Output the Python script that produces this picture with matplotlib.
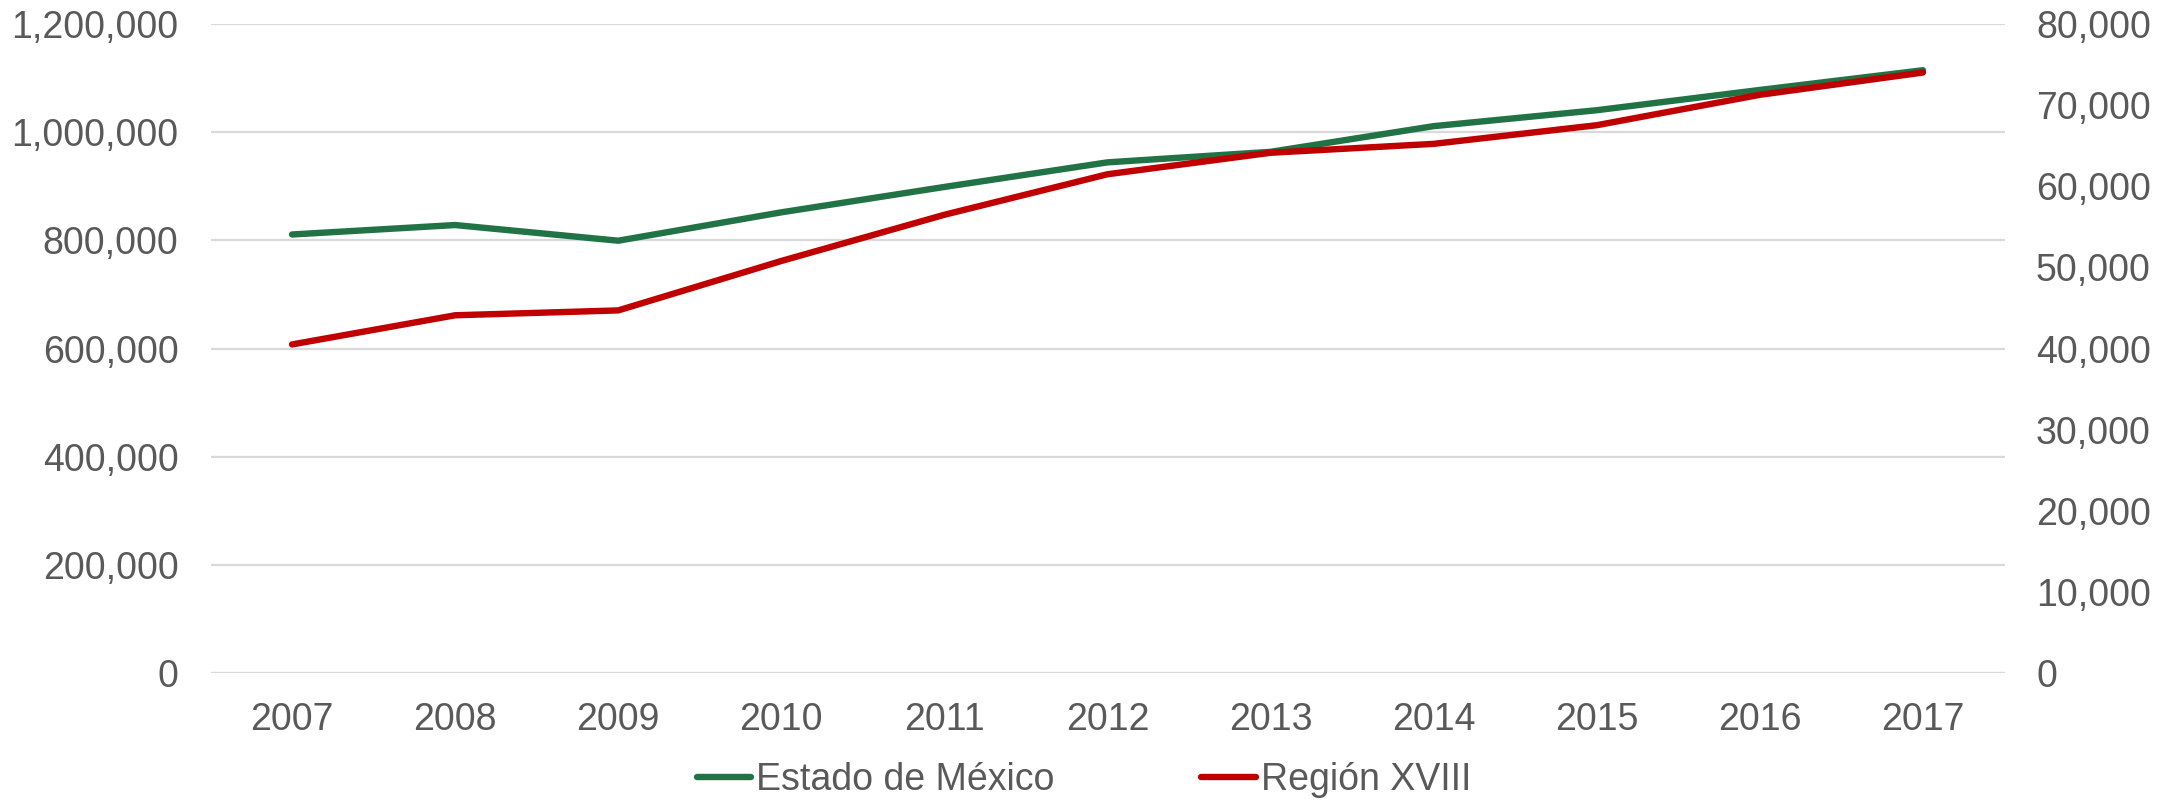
import matplotlib
matplotlib.use("Agg")
import matplotlib.pyplot as plt
from matplotlib.ticker import FuncFormatter, FixedLocator

years = ["2007", "2008", "2009", "2010", "2011", "2012", "2013", "2014", "2015", "2016", "2017"]
estado_mexico = [811000, 828500, 799500, 852000, 899000, 944500, 964000, 1011500, 1041000, 1078500, 1115000]
region_xviii = [40500, 44100, 44700, 50800, 56500, 61500, 64150, 65250, 67550, 71300, 74050]

left_ticks = [0, 200000, 400000, 600000, 800000, 1000000, 1200000]
right_ticks = [0, 10000, 20000, 30000, 40000, 50000, 60000, 70000, 80000]

GREEN = "#217346"
RED = "#C00000"
GRAY = "#595959"
GRID = "#D9D9D9"

plt.rcParams['font.family'] = ['Liberation Sans', 'DejaVu Sans']
fs = 27

fig = plt.figure(figsize=(21.82, 8.02), dpi=100)
ax = fig.add_axes([210.5/2182, 1-672.7/802, (2004.5-210.5)/2182, (672.7-24.3)/802])
ax2 = ax.twinx()

x = list(range(len(years)))
l1, = ax.plot(x, estado_mexico, color=GREEN, lw=4.6, solid_capstyle='round', label="Estado de México", zorder=3)
l2, = ax2.plot(x, region_xviii, color=RED, lw=4.6, solid_capstyle='round', label="Región XVIII", zorder=3)

ax.set_xlim(-0.5, len(years)-0.5)
ax.set_ylim(0, 1200000)
ax2.set_ylim(0, 80000)
ax.yaxis.set_major_locator(FixedLocator(left_ticks))
ax2.yaxis.set_major_locator(FixedLocator(right_ticks))
fmt = FuncFormatter(lambda v, p: f"{int(v):,}")
ax.yaxis.set_major_formatter(fmt)
ax2.yaxis.set_major_formatter(fmt)
ax.set_xticks(x)
ax.set_xticklabels(years)

ax.grid(axis='y', color=GRID, lw=1.6)
ax.set_axisbelow(True)
for a in (ax, ax2):
    for s in a.spines.values():
        s.set_visible(False)
    a.tick_params(length=0, labelsize=fs, labelcolor=GRAY)
ax.tick_params(axis='y', pad=23)
ax2.tick_params(axis='y', pad=22.7)
ax.tick_params(axis='x', pad=21)

fig.legend(handles=[l1, l2], loc='center', bbox_to_anchor=((698+1420)/2/2182 + 25/2182, 1-780/802),
           ncol=2, frameon=False, fontsize=fs, labelcolor=GRAY,
           handlelength=1.45, handletextpad=0.15, columnspacing=3.9,
           borderpad=0, borderaxespad=0)

fig.savefig("out.png", dpi=100)
